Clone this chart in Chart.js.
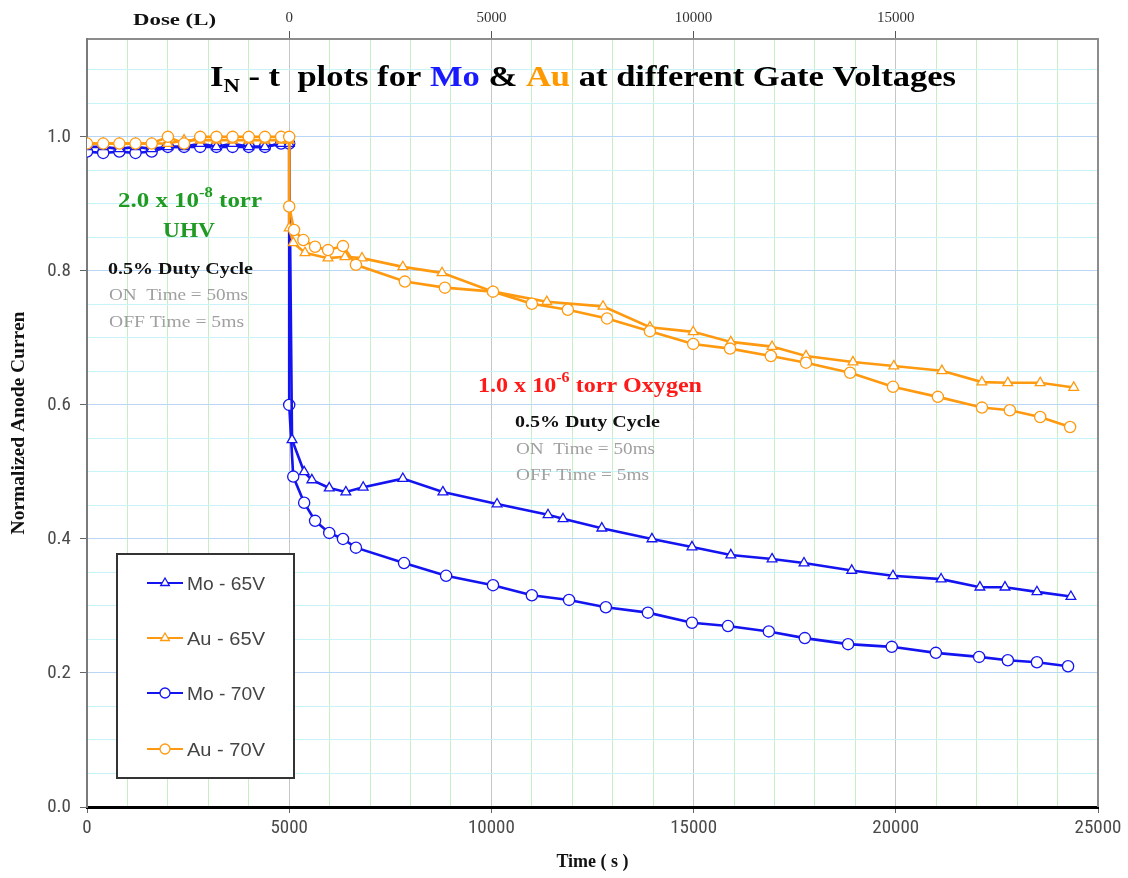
<!DOCTYPE html>
<html>
<head>
<meta charset="utf-8">
<script src="https://cdn.jsdelivr.net/npm/chart.js@4.4.1/dist/chart.umd.min.js"></script>
<style>
  html, body { margin: 0; padding: 0; background: #ffffff; }
  #wrap { width: 1128px; height: 878px; }
</style>
</head>
<body>
<div id="wrap"><canvas id="chart" width="1128" height="878"></canvas></div>
<script>
// ---- data: time (s) and normalized anode current per series ----
const seriesNames = ['Mo - 65V', 'Au - 65V', 'Mo - 70V', 'Au - 70V'];

const mo65Time = [0, 400, 800, 1200, 1600, 2000, 2400, 2800, 3200, 3600, 4000, 4400, 4800, 5000,
  5070, 5370, 5560, 5990, 6400, 6830, 7810, 8800, 10140, 11400, 11770, 12730, 13970, 14960,
  15920, 16940, 17730, 18910, 19930, 21120, 22080, 22700, 23490, 24330];
const mo65Current = [0.985, 0.985, 0.982, 0.985, 0.982, 0.985, 0.985, 0.99, 0.985, 0.99, 0.985, 0.985, 0.99, 0.99,
  0.548, 0.500, 0.488, 0.476, 0.470, 0.477, 0.490, 0.470, 0.452, 0.436, 0.430, 0.416, 0.400, 0.388,
  0.376, 0.370, 0.364, 0.353, 0.345, 0.340, 0.328, 0.328, 0.321, 0.314];

const au65Time = [0, 400, 800, 1200, 1600, 2000, 2400, 2800, 3200, 3600, 4000, 4400, 4800, 5000,
  5000, 5100, 5390, 5960, 6380, 6800, 7810, 8780, 10040, 11370, 12760, 13920, 14990,
  15920, 16940, 17780, 18940, 19950, 21140, 22130, 22770, 23570, 24400];
const au65Current = [0.99, 0.99, 0.99, 0.99, 0.99, 0.99, 0.995, 0.995, 0.995, 0.995, 0.995, 0.995, 0.995, 0.995,
  0.864, 0.842, 0.827, 0.819, 0.821, 0.819, 0.806, 0.797, 0.769, 0.754, 0.747, 0.716, 0.709,
  0.694, 0.687, 0.673, 0.664, 0.658, 0.651, 0.634, 0.633, 0.633, 0.626];

const mo70Time = [0, 400, 800, 1200, 1600, 2000, 2400, 2800, 3200, 3600, 4000, 4400, 4800, 5000,
  5000, 5100, 5370, 5640, 5990, 6330, 6650, 7840, 8880, 10040, 11000, 11920, 12830, 13870,
  14960, 15850, 16860, 17750, 18820, 19900, 20990, 22060, 22770, 23490, 24260];
const mo70Current = [0.978, 0.976, 0.978, 0.976, 0.978, 0.985, 0.985, 0.985, 0.985, 0.985, 0.985, 0.985, 0.99, 0.99,
  0.600, 0.493, 0.454, 0.427, 0.409, 0.400, 0.387, 0.364, 0.345, 0.331, 0.316, 0.309, 0.298, 0.290,
  0.275, 0.270, 0.262, 0.252, 0.243, 0.239, 0.230, 0.224, 0.219, 0.216, 0.210];

const au70Time = [0, 400, 800, 1200, 1600, 2000, 2400, 2800, 3200, 3600, 4000, 4400, 4800, 5000,
  5000, 5120, 5350, 5640, 5960, 6330, 6650, 7860, 8850, 10040, 11000, 11890, 12860, 13920,
  14990, 15900, 16910, 17780, 18870, 19930, 21040, 22130, 22820, 23570, 24310];
const au70Current = [0.99, 0.99, 0.99, 0.99, 0.99, 1.0, 0.99, 1.0, 1.0, 1.0, 1.0, 1.0, 1.0, 1.0,
  0.896, 0.861, 0.846, 0.836, 0.831, 0.837, 0.809, 0.784, 0.775, 0.769, 0.751, 0.742, 0.729, 0.710,
  0.691, 0.684, 0.673, 0.663, 0.648, 0.627, 0.612, 0.596, 0.592, 0.582, 0.567];

const timeTicks = [0, 5000, 10000, 15000, 20000, 25000];
const doseTicks = [0, 5000, 10000, 15000];
const currentTicks = [0.0, 0.2, 0.4, 0.6, 0.8, 1.0];

// ---- styling ----
const BLUE = '#1414f0';
const ORANGE = '#ff9a10';
const SERIF = "'Liberation Serif', 'Times New Roman', serif";
const SANS = "'Liberation Sans', Arial, sans-serif";
const NARROW = "'Liberation Sans Narrow', 'Arial Narrow', 'Roboto Condensed', 'Liberation Sans', sans-serif";

function toPoints(t, v) { return t.map((x, i) => ({ x: x, y: v[i] })); }

function isMultiple(v, step) {
  const r = v / step;
  return Math.abs(r - Math.round(r)) < 1e-6;
}

function makeSet(label, t, v, color, style, order) {
  return {
    label: label,
    data: toPoints(t, v),
    borderColor: color,
    backgroundColor: color,
    borderWidth: 2.6,
    pointStyle: style,
    pointRadius: 5.6,
    pointBorderWidth: 1.3,
    pointBorderColor: color,
    pointBackgroundColor: '#ffffff',
    tension: 0,
    order: order
  };
}

const datasets = [
  makeSet(seriesNames[0], mo65Time, mo65Current, BLUE, 'triangle', 2),
  makeSet(seriesNames[1], au65Time, au65Current, ORANGE, 'triangle', 1),
  makeSet(seriesNames[2], mo70Time, mo70Current, BLUE, 'circle', 2),
  makeSet(seriesNames[3], au70Time, au70Current, ORANGE, 'circle', 0)
];

// draws a run of text pieces with individual fonts, colours and vertical shifts;
// when a width is given the run is stretched horizontally to that width
function richText(ctx, x, y, parts, align, width) {
  let w = 0;
  parts.forEach(p => { ctx.font = p.font; p.w = ctx.measureText(p.t).width; w += p.w; });
  const k = width ? width / w : 1;
  const total = w * k;
  const x0 = align === 'center' ? x - total / 2 : x;
  ctx.save();
  ctx.translate(x0, y);
  ctx.scale(k, 1);
  ctx.textAlign = 'left';
  ctx.textBaseline = 'alphabetic';
  let cx = 0;
  parts.forEach(p => {
    ctx.font = p.font;
    ctx.fillStyle = p.color;
    ctx.fillText(p.t, cx, p.dy || 0);
    cx += p.w;
  });
  ctx.restore();
}

// right edge of the frame
const framePlugin = {
  id: 'frame',
  beforeDatasetsDraw(chart) {
    const { ctx, chartArea: a } = chart;
    ctx.save();
    ctx.strokeStyle = '#8c8c8c';
    ctx.lineWidth = 2;
    ctx.beginPath();
    ctx.moveTo(a.right, a.top);
    ctx.lineTo(a.right, a.bottom);
    ctx.stroke();
    ctx.restore();
  }
};

// title and pressure / duty-cycle notes
const notesPlugin = {
  id: 'notes',
  afterDraw(chart) {
    const ctx = chart.ctx;
    ctx.save();

    // chart title with subscript and coloured metal names
    const s = 29;
    richText(ctx, 210, 86, [
      { t: 'I', font: `bold ${s}px ${SERIF}`, color: '#000' },
      { t: 'N', font: `bold ${Math.round(s * 0.66)}px ${SERIF}`, color: '#000', dy: s * 0.22 },
      { t: ' - t  plots for ', font: `bold ${s}px ${SERIF}`, color: '#000' },
      { t: 'Mo', font: `bold ${s}px ${SERIF}`, color: '#1a1aff' },
      { t: ' & ', font: `bold ${s}px ${SERIF}`, color: '#000' },
      { t: 'Au', font: `bold ${s}px ${SERIF}`, color: '#ff9900' },
      { t: ' at different Gate Voltages', font: `bold ${s}px ${SERIF}`, color: '#000' }
    ], 'left', 746);

    // top axis caption
    richText(ctx, 133, 25, [{ t: 'Dose (L)', font: `bold 16px ${SERIF}`, color: '#111' }], 'left', 83);

    // UHV block
    const green = '#1f9a22';
    const gray = '#a0a0a0';
    richText(ctx, 118, 207, [
      { t: '2.0 x 10', font: `bold 21px ${SERIF}`, color: green },
      { t: '-8', font: `bold 14px ${SERIF}`, color: green, dy: -10 },
      { t: ' torr', font: `bold 21px ${SERIF}`, color: green }
    ], 'left', 144);
    richText(ctx, 189, 237, [{ t: 'UHV', font: `bold 21px ${SERIF}`, color: green }], 'center', 52);
    richText(ctx, 108, 274, [{ t: '0.5% Duty Cycle', font: `bold 17px ${SERIF}`, color: '#111' }], 'left', 145);
    richText(ctx, 109, 300, [{ t: 'ON  Time = 50ms', font: `17px ${SERIF}`, color: gray }], 'left', 139);
    richText(ctx, 109, 327, [{ t: 'OFF Time = 5ms', font: `17px ${SERIF}`, color: gray }], 'left', 135);

    // oxygen block
    const red = '#ff1a1a';
    richText(ctx, 478, 392, [
      { t: '1.0 x 10', font: `bold 21px ${SERIF}`, color: red },
      { t: '-6', font: `bold 14px ${SERIF}`, color: red, dy: -10 },
      { t: ' torr Oxygen', font: `bold 21px ${SERIF}`, color: red }
    ], 'left', 224);
    richText(ctx, 515, 427, [{ t: '0.5% Duty Cycle', font: `bold 17px ${SERIF}`, color: '#111' }], 'left', 145);
    richText(ctx, 516, 454, [{ t: 'ON  Time = 50ms', font: `17px ${SERIF}`, color: gray }], 'left', 139);
    richText(ctx, 516, 480, [{ t: 'OFF Time = 5ms', font: `17px ${SERIF}`, color: gray }], 'left', 133);

    ctx.restore();
  }
};

// boxed legend inside the plot
const boxLegendPlugin = {
  id: 'boxLegend',
  afterDraw(chart) {
    const ctx = chart.ctx;
    const box = { x: 117, y: 554, w: 177, h: 224 };
    ctx.save();
    ctx.fillStyle = '#ffffff';
    ctx.fillRect(box.x, box.y, box.w, box.h);
    ctx.strokeStyle = '#333333';
    ctx.lineWidth = 2;
    ctx.strokeRect(box.x, box.y, box.w, box.h);
    const rowY = [583, 638, 693, 749];
    chart.data.datasets.forEach((ds, i) => {
      const y = rowY[i];
      ctx.strokeStyle = ds.borderColor;
      ctx.lineWidth = 2;
      ctx.beginPath();
      ctx.moveTo(147, y);
      ctx.lineTo(183, y);
      ctx.stroke();
      const opts = { pointStyle: ds.pointStyle, radius: 5, borderWidth: 1.3, rotation: 0 };
      ctx.fillStyle = '#ffffff';
      ctx.strokeStyle = ds.borderColor;
      ctx.lineWidth = 1.3;
      Chart.helpers.drawPoint(ctx, opts, 165, y);
      richText(ctx, 187, y + 7, [{ t: ds.label, font: `18px ${SANS}`, color: '#444' }], 'left', 78);
    });
    ctx.restore();
  }
};

const tickFont = { family: NARROW, size: 19 };

new Chart(document.getElementById('chart'), {
  type: 'line',
  data: { datasets: datasets },
  plugins: [framePlugin, notesPlugin, boxLegendPlugin],
  options: {
    responsive: false,
    animation: false,
    devicePixelRatio: 1,
    layout: { padding: { left: 0, right: 30, top: 0, bottom: 0 } },
    plugins: { legend: { display: false }, tooltip: { enabled: false }, title: { display: false } },
    scales: {
      x: {
        type: 'linear', position: 'bottom', min: 0, max: 25000,
        afterFit(s) { s.height = 71; },
        afterBuildTicks(s) {
          const t = [];
          for (let v = 0; v <= 25000; v += 1000) t.push({ value: v });
          s.ticks = t;
        },
        ticks: {
          autoSkip: false, maxRotation: 0, padding: 4, color: '#4a4a4a', font: tickFont,
          callback: v => (timeTicks.includes(v) ? String(v) : '')
        },
        grid: {
          color: c => (isMultiple(c.tick.value, 5000) ? '#c6c6c6' : '#c4f0c4'),
          tickColor: c => (isMultiple(c.tick.value, 5000) ? '#666' : 'rgba(0,0,0,0)'),
          tickLength: 6, lineWidth: 1
        },
        border: { color: '#000000', width: 3 },
        title: {
          display: true, text: 'Time ( s )', color: '#111',
          font: { family: SERIF, size: 18, weight: 'bold' },
          padding: { top: 0, bottom: 5 }
        }
      },
      dose: {
        type: 'linear', position: 'top', min: -5000, max: 20000,
        afterFit(s) { s.height = 39; },
        afterBuildTicks(s) {
          s.ticks = [-5000, 0, 5000, 10000, 15000, 20000].map(v => ({ value: v }));
        },
        ticks: {
          autoSkip: false, maxRotation: 0, padding: 4, color: '#333',
          font: { family: SERIF, size: 15 },
          callback: v => (doseTicks.includes(v) ? String(v) : '')
        },
        grid: {
          drawOnChartArea: false, tickLength: 8,
          tickColor: c => (doseTicks.includes(c.tick.value) ? '#555' : 'rgba(0,0,0,0)')
        },
        border: { color: '#8c8c8c', width: 2 }
      },
      y: {
        type: 'linear', position: 'left', min: 0, max: 1.146,
        afterFit(s) { s.width = 87; },
        afterBuildTicks(s) {
          const t = [];
          for (let k = 0; k <= 22; k++) t.push({ value: +(k * 0.05).toFixed(2) });
          s.ticks = t;
        },
        ticks: {
          autoSkip: false, padding: 9, color: '#4a4a4a', font: tickFont,
          callback: v => (currentTicks.some(c => Math.abs(c - v) < 1e-6) ? v.toFixed(1) : '')
        },
        grid: {
          color: c => (isMultiple(c.tick.value, 0.2) ? '#b9d6f6' : '#c8f3f8'),
          tickColor: c => (isMultiple(c.tick.value, 0.2) ? '#666' : 'rgba(0,0,0,0)'),
          tickLength: 7, lineWidth: 1
        },
        border: { color: '#7a7a7a', width: 2 },
        title: {
          display: true, text: 'Normalized Anode Curren', color: '#111',
          font: { family: SERIF, size: 19.5, weight: 'bold' },
          padding: { top: 7, bottom: 0 }
        }
      }
    }
  }
});
</script>
</body>
</html>
